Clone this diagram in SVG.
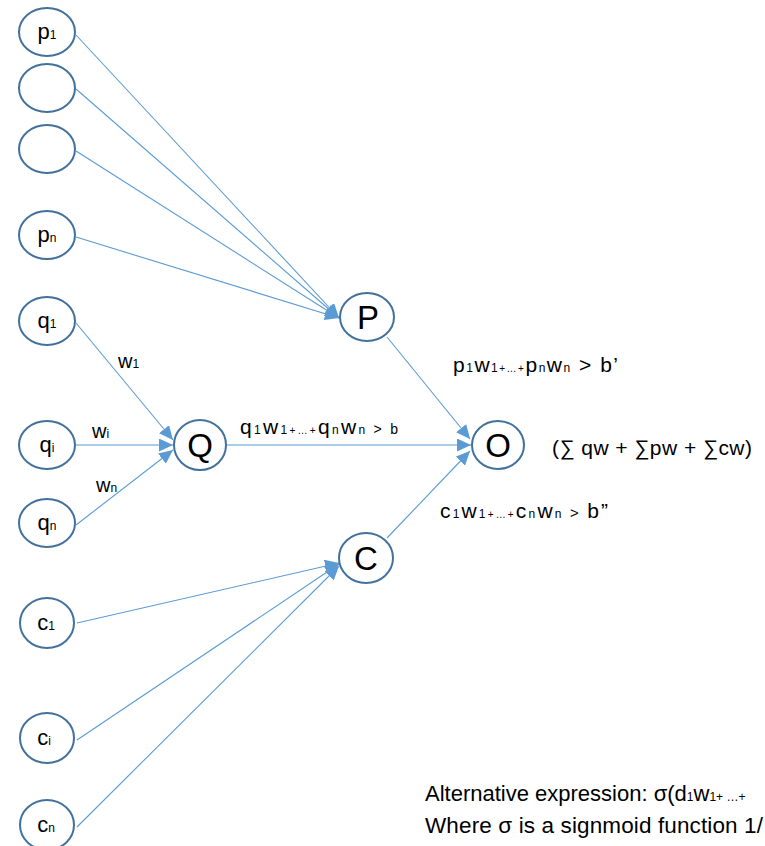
<svg xmlns="http://www.w3.org/2000/svg" width="765" height="846" viewBox="0 0 765 846">
<style>
  .node ellipse { fill: #ffffff; stroke: #41719C; stroke-width: 2; }
  .lbl { font-family: "Liberation Sans", Arial, sans-serif; fill: #000000; }
  .in { font-size: 22px; }
  .sub { font-size: 12px; }
  .hub { font-size: 33px; }
  .conn line { stroke: #5B9BD5; stroke-width: 1.1; fill: none; }
  .arr line { marker-end: url(#ah); }
</style>
<defs>
  <marker id="ah" markerUnits="userSpaceOnUse" markerWidth="15" markerHeight="13" refX="14" refY="6.5" orient="auto">
    <path d="M0,0 L14,6.5 L0,13 Z" fill="#5B9BD5"/>
  </marker>
</defs>
<rect width="765" height="846" fill="#ffffff"/>

<g id="connectors" class="conn">
  <g class="arr">
    <line x1="76" y1="35" x2="339" y2="318"/>
    <line x1="76" y1="89" x2="339" y2="318"/>
    <line x1="76" y1="151" x2="339" y2="318"/>
    <line x1="76" y1="237" x2="339" y2="318"/>
    <line x1="76" y1="323" x2="173" y2="440"/>
    <line x1="76" y1="445" x2="173" y2="445"/>
    <line x1="76" y1="525" x2="173" y2="450"/>
    <line x1="77" y1="623" x2="339" y2="563"/>
    <line x1="77" y1="740" x2="339" y2="564"/>
    <line x1="77" y1="827" x2="339" y2="566"/>
    <line x1="387" y1="337" x2="470" y2="439"/>
    <line x1="226" y1="445" x2="471" y2="445"/>
    <line x1="387" y1="538" x2="470" y2="451"/>
  </g>
</g>

<g id="p1" class="node"><ellipse cx="47" cy="32" rx="28" ry="24"/>
  <text class="lbl in" x="47" y="39" text-anchor="middle">p<tspan class="sub">1</tspan></text></g>
<g id="p2" class="node"><ellipse cx="47" cy="88" rx="28" ry="24"/></g>
<g id="p3" class="node"><ellipse cx="47" cy="149" rx="28" ry="24"/></g>
<g id="pn" class="node"><ellipse cx="47" cy="235" rx="28" ry="24"/>
  <text class="lbl in" x="47" y="242" text-anchor="middle">p<tspan class="sub">n</tspan></text></g>

<g id="q1" class="node"><ellipse cx="47" cy="321" rx="28" ry="24"/>
  <text class="lbl in" x="47" y="328" text-anchor="middle">q<tspan class="sub">1</tspan></text></g>
<g id="qi" class="node"><ellipse cx="47" cy="445" rx="28" ry="24"/>
  <text class="lbl in" x="47" y="452" text-anchor="middle">q<tspan class="sub">i</tspan></text></g>
<g id="qn" class="node"><ellipse cx="47" cy="523" rx="28" ry="24"/>
  <text class="lbl in" x="47" y="530" text-anchor="middle">q<tspan class="sub">n</tspan></text></g>

<g id="c1" class="node"><ellipse cx="47" cy="623" rx="27" ry="25"/>
  <text class="lbl in" x="46" y="630" text-anchor="middle">c<tspan class="sub">1</tspan></text></g>
<g id="ci" class="node"><ellipse cx="47" cy="738" rx="27" ry="25"/>
  <text class="lbl in" x="44" y="745" text-anchor="middle">c<tspan class="sub">i</tspan></text></g>
<g id="cn" class="node"><ellipse cx="47" cy="825" rx="27" ry="25"/>
  <text class="lbl in" x="46" y="832" text-anchor="middle">c<tspan class="sub">n</tspan></text></g>

<g id="P" class="node"><ellipse cx="367" cy="317" rx="27" ry="24"/>
  <text class="lbl hub" x="368" y="329" text-anchor="middle">P</text></g>
<g id="Q" class="node"><ellipse cx="200" cy="445" rx="26" ry="25"/>
  <text class="lbl hub" x="200" y="457" text-anchor="middle">Q</text></g>
<g id="O" class="node"><ellipse cx="498" cy="445" rx="26" ry="24"/>
  <text class="lbl hub" x="498" y="457" text-anchor="middle">O</text></g>
<g id="C" class="node"><ellipse cx="366" cy="558" rx="27" ry="25"/>
  <text class="lbl hub" x="366" y="570" text-anchor="middle">C</text></g>

<g id="labels">
  <text class="lbl" x="118" y="368" font-size="20">w<tspan font-size="12">1</tspan></text>
  <text class="lbl" x="92" y="438" font-size="20">w<tspan font-size="12">i</tspan></text>
  <text class="lbl" x="96" y="492" font-size="20">w<tspan font-size="12">n</tspan></text>
  <text class="lbl" x="240" y="434" font-size="21" textLength="158" lengthAdjust="spacing">q<tspan font-size="12">1</tspan>w<tspan font-size="12">1</tspan><tspan font-size="10">+…+</tspan>q<tspan font-size="12">n</tspan>w<tspan font-size="12">n</tspan><tspan font-size="14">  &gt; b</tspan></text>
  <text class="lbl" x="453" y="372" font-size="21" textLength="165" lengthAdjust="spacing">p<tspan font-size="12">1</tspan>w<tspan font-size="12">1</tspan><tspan font-size="10">+…+</tspan>p<tspan font-size="12">n</tspan>w<tspan font-size="12">n</tspan> &gt; b’</text>
  <text class="lbl" x="440" y="518" font-size="21" textLength="168" lengthAdjust="spacing">c<tspan font-size="12">1</tspan>w<tspan font-size="12">1</tspan><tspan font-size="10">+…+</tspan>c<tspan font-size="12">n</tspan>w<tspan font-size="12">n</tspan><tspan font-size="15">  &gt; </tspan>b”</text>
  <text class="lbl" x="552" y="455" font-size="21" textLength="200" lengthAdjust="spacing">(∑ qw + ∑pw + ∑cw)</text>
  <text class="lbl" x="425" y="801" font-size="22">Alternative expression: σ(d<tspan font-size="12">1</tspan>w<tspan font-size="12">1+ …+</tspan></text>
  <text class="lbl" x="425" y="833" font-size="22.5" textLength="338" lengthAdjust="spacing">Where σ is a signmoid function 1/</text>
</g>
</svg>
